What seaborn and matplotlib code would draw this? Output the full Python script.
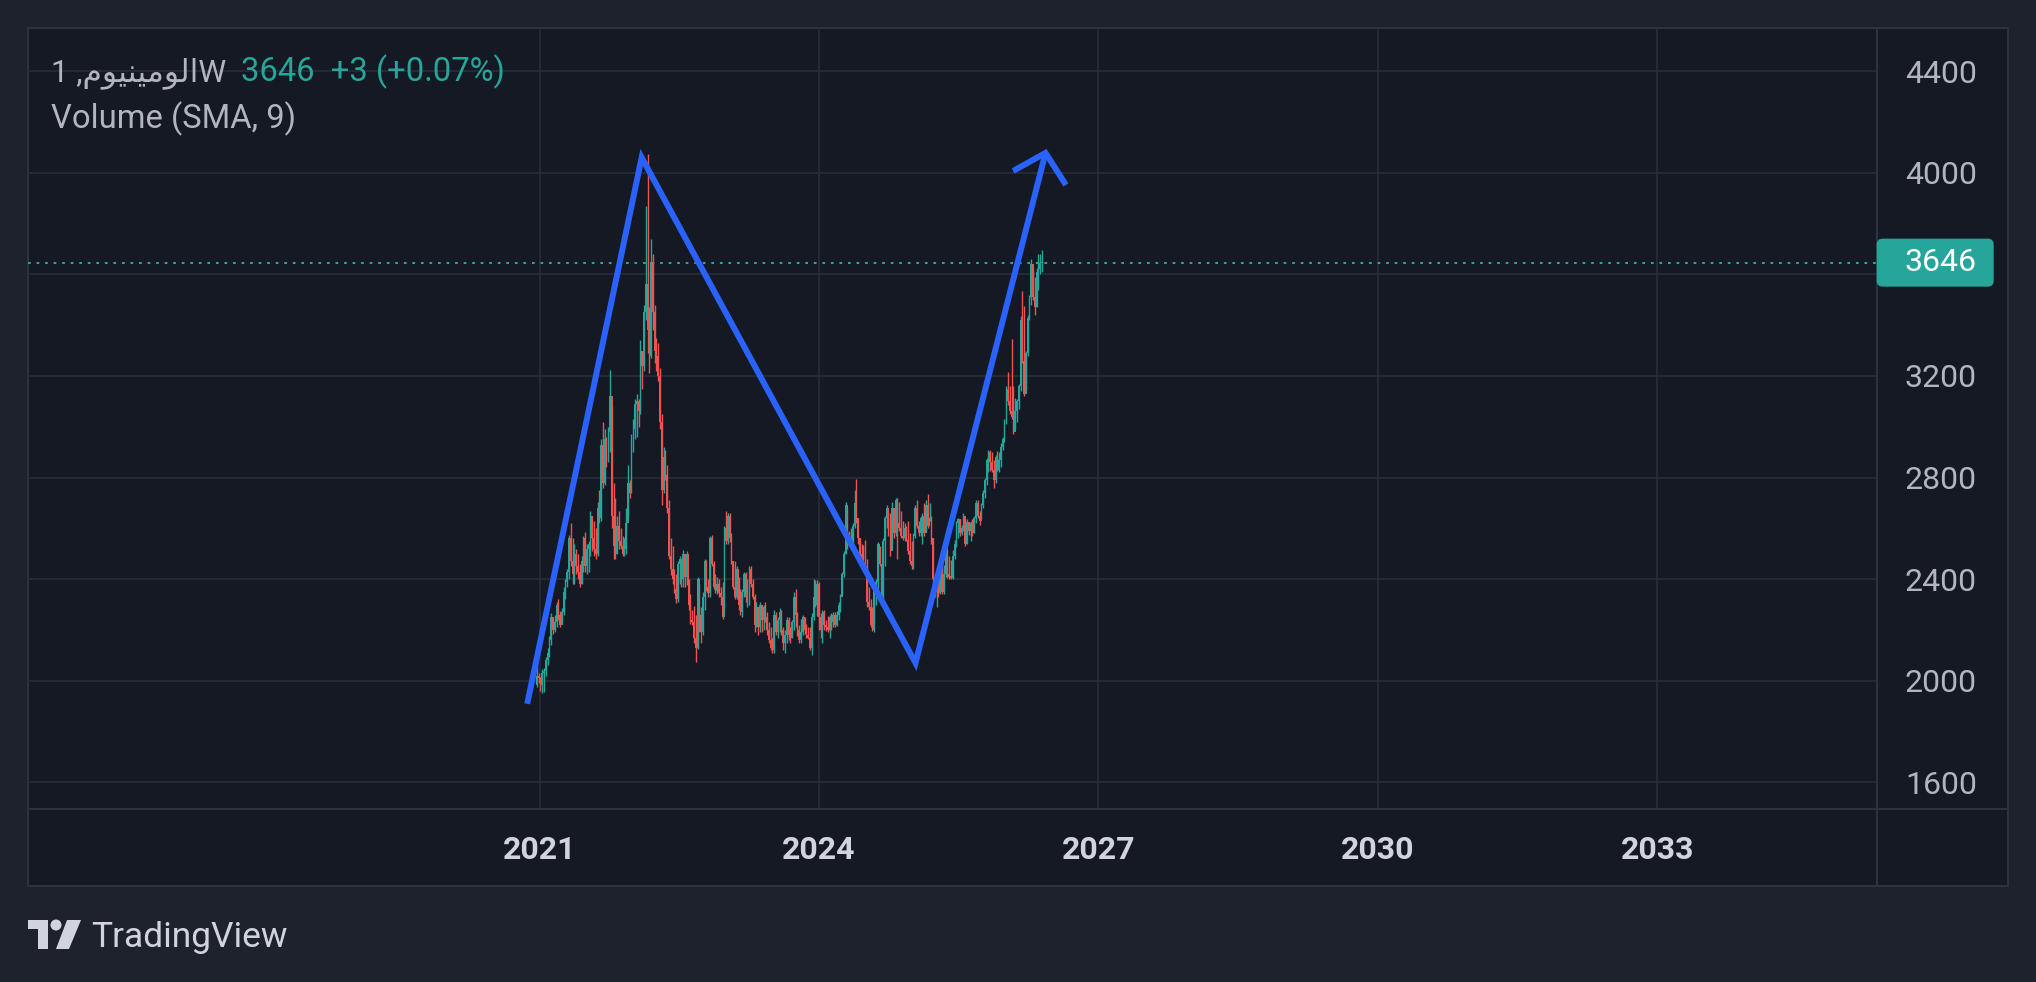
import numpy as np
import pandas as pd
import matplotlib
matplotlib.use("Agg")
import matplotlib.pyplot as plt
import matplotlib.dates as mdates
from matplotlib.patches import Rectangle, FancyBboxPatch, Polygon, Ellipse
from matplotlib.lines import Line2D
from matplotlib.transforms import IdentityTransform
import seaborn as sns

# ---------------- data (weekly candles) ----------------
start_date = "2020-12-21"
first_open = 1985

closes = [
    2020, 2010, 1985, 2030, 2040, 2080, 2110, 2160, 2250, 2200,
    2230, 2300, 2260, 2220, 2270, 2350, 2390, 2430, 2560, 2470,
    2420, 2500, 2450, 2430, 2380, 2470, 2560, 2450, 2520, 2540,
    2650, 2560, 2520, 2500, 2680, 2640, 2930, 2780, 2950, 2870,
    2980, 3120, 2650, 2530, 2500, 2610, 2550, 2530, 2500, 2520,
    2620, 2780, 2740, 2930, 2990, 3090, 3100, 3060, 3300, 3240,
    3450, 3560, 3380, 3280, 3650, 3450, 3300, 3280, 3200, 3020,
    2750, 2880, 2810, 2680, 2490, 2440, 2400, 2360, 2320, 2460,
    2480, 2400, 2500, 2410, 2500, 2300, 2240, 2230, 2170, 2130,
    2400, 2260, 2190, 2330, 2470, 2370, 2345, 2560, 2460, 2370,
    2355, 2380, 2345, 2330, 2250, 2600, 2550, 2650, 2560, 2470,
    2370, 2330, 2440, 2300, 2270, 2350, 2420, 2330, 2390, 2440,
    2380, 2330, 2220, 2290, 2210, 2300, 2240, 2290, 2250, 2200,
    2160, 2130, 2120, 2260, 2190, 2240, 2270, 2200, 2150, 2180,
    2240, 2180, 2170, 2230, 2330, 2260, 2200, 2160, 2190, 2250,
    2200, 2180, 2170, 2130, 2250, 2330, 2300, 2380, 2250, 2200,
    2270, 2220, 2210, 2200, 2250, 2230, 2260, 2220, 2260, 2300,
    2330, 2420, 2500, 2690, 2560, 2540, 2530, 2610, 2700, 2640,
    2560, 2500, 2485, 2470, 2450, 2310, 2290, 2220, 2200, 2360,
    2390, 2540, 2460, 2320, 2550, 2640, 2680, 2580, 2510, 2680,
    2580, 2710, 2620, 2600, 2570, 2560, 2600, 2555, 2510, 2470,
    2450, 2570, 2680, 2610, 2580, 2640, 2650, 2580, 2690, 2610,
    2640, 2560, 2400, 2350, 2410, 2345, 2450, 2350, 2420, 2530,
    2420, 2410, 2405, 2490, 2540, 2620, 2635, 2580, 2600, 2650,
    2540, 2625, 2590, 2620, 2580, 2640, 2700, 2650, 2630, 2690,
    2740, 2790, 2870, 2900, 2860, 2830, 2790, 2880, 2830, 2870,
    2920, 2950, 3020, 3150, 3100, 3060, 3040, 2980, 3060, 3100,
    3160, 3420, 3260, 3130, 3290, 3430, 3510, 3640, 3510, 3470,
    3610, 3620, 3643, 3646,
]
highs = [
    2070, 2030, 2015, 2045, 2050, 2095, 2130, 2175, 2265, 2245,
    2260, 2310, 2320, 2275, 2285, 2370, 2400, 2440, 2575, 2620,
    2560, 2540, 2520, 2500, 2460, 2490, 2570, 2585, 2540, 2550,
    2670, 2630, 2630, 2600, 2705, 2750, 2950, 3020, 2990, 2960,
    3000, 3225, 3080, 2780, 2720, 2650, 2670, 2600, 2570, 2560,
    2680, 2850, 2790, 2970, 3030, 3110, 3130, 3110, 3340, 3290,
    3480, 3870, 4073, 3470, 3740, 3680, 3480, 3350, 3330, 3230,
    3050, 2920, 2910, 2850, 2710, 2560, 2530, 2440, 2420, 2470,
    2490, 2470, 2515, 2460, 2510, 2400, 2340, 2280, 2295, 2260,
    2410, 2380, 2290, 2350, 2480, 2475, 2400, 2570, 2575, 2470,
    2420, 2410, 2400, 2370, 2390, 2610, 2670, 2660, 2660, 2580,
    2460, 2470, 2450, 2410, 2360, 2360, 2430, 2430, 2400, 2450,
    2450, 2400, 2340, 2310, 2280, 2310, 2300, 2300, 2310, 2270,
    2230, 2210, 2170, 2280, 2270, 2250, 2285, 2280, 2210, 2200,
    2250, 2250, 2210, 2240, 2350, 2360, 2270, 2220, 2245, 2260,
    2250, 2225, 2210, 2210, 2265, 2400, 2395, 2395, 2390, 2265,
    2280, 2280, 2240, 2255, 2260, 2265, 2270, 2270, 2275, 2310,
    2340, 2430, 2510, 2705, 2680, 2590, 2600, 2620, 2750, 2795,
    2640, 2560, 2540, 2535, 2555, 2480, 2370, 2320, 2290, 2370,
    2400, 2545, 2530, 2460, 2560, 2650, 2690, 2660, 2660, 2705,
    2660, 2720, 2720, 2705, 2670, 2630, 2620, 2610, 2630, 2580,
    2550, 2580, 2690, 2710, 2630, 2650, 2660, 2700, 2710, 2735,
    2700, 2650, 2560, 2415, 2420, 2420, 2460, 2465, 2455, 2540,
    2520, 2490, 2475, 2515, 2555, 2630, 2640, 2635, 2615, 2660,
    2640, 2635, 2625, 2630, 2635, 2650, 2710, 2710, 2670, 2700,
    2750, 2800, 2875, 2910, 2910, 2900, 2870, 2890, 2905, 2900,
    2935, 2960, 3030, 3160, 3215, 3160, 3345, 3160, 3115, 3110,
    3170, 3436, 3535, 3475, 3300, 3440, 3520, 3660, 3620, 3590,
    3625, 3680, 3680, 3694,
]
lows = [
    1975, 1990, 1960, 1950, 1955, 2020, 2060, 2095, 2140, 2185,
    2190, 2210, 2240, 2210, 2235, 2260, 2320, 2370, 2400, 2450,
    2380, 2380, 2420, 2400, 2370, 2380, 2430, 2430, 2420, 2430,
    2490, 2510, 2490, 2480, 2490, 2620, 2630, 2760, 2770, 2840,
    2860, 2900, 2600, 2480, 2480, 2500, 2520, 2520, 2490, 2490,
    2500, 2650, 2720, 2740, 2900, 2950, 2960, 3000, 3050, 3150,
    3220, 3420, 3290, 3210, 3270, 3380, 3250, 3220, 3180, 2990,
    2690, 2740, 2790, 2660, 2480, 2415, 2380, 2345, 2305, 2310,
    2380, 2370, 2370, 2370, 2375, 2280, 2225, 2220, 2150, 2075,
    2125, 2190, 2150, 2180, 2280, 2355, 2330, 2330, 2450, 2360,
    2345, 2340, 2330, 2300, 2245, 2290, 2540, 2540, 2545, 2460,
    2360, 2320, 2320, 2280, 2260, 2250, 2330, 2310, 2290, 2300,
    2370, 2320, 2190, 2210, 2180, 2190, 2190, 2200, 2230, 2180,
    2150, 2120, 2110, 2110, 2180, 2170, 2190, 2180, 2120, 2110,
    2150, 2160, 2150, 2170, 2200, 2210, 2175, 2150, 2150, 2180,
    2185, 2170, 2165, 2120, 2100, 2240, 2290, 2255, 2200, 2170,
    2150, 2200, 2195, 2190, 2170, 2200, 2210, 2210, 2215, 2240,
    2270, 2340, 2410, 2500, 2520, 2530, 2520, 2530, 2600, 2620,
    2540, 2490, 2460, 2440, 2430, 2290, 2280, 2210, 2195, 2190,
    2300, 2360, 2450, 2300, 2320, 2450, 2600, 2570, 2490, 2540,
    2560, 2570, 2480, 2590, 2560, 2555, 2550, 2550, 2500, 2460,
    2440, 2440, 2560, 2600, 2570, 2570, 2540, 2570, 2590, 2600,
    2630, 2540, 2350, 2330, 2290, 2330, 2340, 2340, 2340, 2410,
    2405, 2400, 2400, 2400, 2480, 2525, 2560, 2570, 2575, 2590,
    2530, 2540, 2575, 2550, 2570, 2580, 2620, 2640, 2615, 2635,
    2680, 2720, 2770, 2820, 2825, 2820, 2760, 2780, 2825, 2820,
    2840, 2910, 2940, 3010, 3085, 3050, 3030, 2970, 2990, 3020,
    3070, 3140, 3250, 3120, 3150, 3280, 3420, 3480, 3500, 3440,
    3470, 3540, 3600, 3610,
]

# hand-drawn zig-zag trend line and arrow head
zigzag_dates = ["2020-11-13", "2022-02-05", "2025-01-14", "2026-06-08"]
zigzag_prices = [1909, 4060, 2070, 4078]
arrow_dates = ["2026-02-01", "2026-06-08", "2026-08-27"]
arrow_prices = [4007, 4078, 3952]

last_price = 3646
y_ticks = [1600, 2000, 2400, 2800, 3200, 3600, 4000, 4400]
hidden_tick = 3600  # covered by the last-price label in the reference
x_tick_years = [2021, 2024, 2027, 2030, 2033]

symbol_ar = "\uFEE1\uFEEE\uFEF4\uFEE8\uFEF4\uFEE3\uFEEE\uFEDF\uFE8D"  # الومينيوم (visual order)
header_left = "1 ," + symbol_ar + "W"
header_right = "3646  +3 (+0.07%)"
header_line2 = "Volume (SMA, 9)"

# ---------------- style ----------------
W, H = 2036, 982
BG = "#1e222d"
PANEL = "#151924"
GRID = "#2a2e39"
SEP = "#2e323e"
TXT = "#b2b5be"
TXT2 = "#d1d4dc"
UP = "#26a69a"
DOWN = "#ef5350"
BLUE = "#2962ff"

sns.set_theme(style="dark", rc={"axes.facecolor": PANEL, "figure.facecolor": BG})
plt.rcParams["font.family"] = ["Roboto", "DejaVu Sans"]


def fx(px):
    return px / W


def fy(py):
    return 1 - py / H


fig = plt.figure(figsize=(W / 100, H / 100), dpi=100, facecolor=BG)

# panel background and separators
fig.add_artist(Rectangle((fx(28), fy(886)), (2008 - 28) / W, (886 - 27.7) / H,
                         transform=fig.transFigure, facecolor=PANEL,
                         edgecolor=SEP, lw=1.5, zorder=-5))

ax = fig.add_axes([fx(28), fy(809), (1876.7 - 28) / W, (809 - 27.7) / H])
ax.set_facecolor("none")
for s in ax.spines.values():
    s.set_visible(False)

fig.add_artist(Line2D([fx(1876.7)] * 2, [fy(27.7), fy(886)], color=SEP,
                      lw=1.5, transform=fig.transFigure, zorder=5))
fig.add_artist(Line2D([fx(28), fx(2008)], [fy(809)] * 2, color=SEP,
                      lw=1.5, transform=fig.transFigure, zorder=5))

# ---------------- candles ----------------
dates = pd.date_range(start_date, periods=len(closes), freq="7D")
xs = mdates.date2num(dates)
c = np.array(closes, dtype=float)
o = np.concatenate([[first_open], c[:-1]])
hi = np.array(highs, dtype=float)
lo = np.array(lows, dtype=float)
cols = np.where(c >= o, UP, DOWN)

ax.vlines(xs, lo, hi, colors=cols, lw=1.0, zorder=3)
ax.bar(xs, np.maximum(np.abs(c - o), 6), bottom=np.minimum(o, c), width=6.0,
       color=cols, linewidth=0, zorder=3)

# current price dotted line
ax.axhline(last_price, color=UP, lw=1.5, ls=(0, (1.3, 2.8)), zorder=2)

# ---------------- zig-zag drawing ----------------
zz = pd.DataFrame({"x": mdates.date2num(pd.to_datetime(zigzag_dates)), "y": zigzag_prices})
ar = pd.DataFrame({"x": mdates.date2num(pd.to_datetime(arrow_dates)), "y": arrow_prices})
sns.lineplot(data=zz, x="x", y="y", sort=False, estimator=None, color=BLUE,
             lw=4.3, ax=ax, solid_joinstyle="miter", solid_capstyle="butt", zorder=6)
sns.lineplot(data=ar, x="x", y="y", sort=False, estimator=None, color=BLUE,
             lw=4.3, ax=ax, solid_joinstyle="miter", solid_capstyle="butt", zorder=6)

# ---------------- axes ----------------
ax.set_xlim(mdates.date2num(pd.Timestamp("2015-07-05")),
            mdates.date2num(pd.Timestamp("2035-05-12")))
ax.set_ylim(1495, 4571)
ax.set_xlabel("")
ax.set_ylabel("")

ax.set_yticks(y_ticks)
ax.set_yticklabels(["" if v == hidden_tick else str(v) for v in y_ticks])
ax.yaxis.tick_right()
ax.tick_params(axis="y", length=0, pad=20.3, labelcolor=TXT, labelsize=23)

xt = mdates.date2num(pd.to_datetime([f"{y}-01-01" for y in x_tick_years]))
ax.set_xticks(xt)
ax.set_xticklabels([str(y) for y in x_tick_years], fontweight="bold")
ax.tick_params(axis="x", length=0, pad=18.5, labelcolor=TXT2, labelsize=23)

ax.grid(True, color=GRID, lw=1.1)
ax.set_axisbelow(True)

# ---------------- price label ----------------
fig.canvas.draw()
y_disp = ax.transData.transform((xs[0], last_price))[1]
fig.add_artist(FancyBboxPatch((1876.7, y_disp - 24), 117, 48,
                              boxstyle="round,pad=0,rounding_size=6",
                              transform=IdentityTransform(), facecolor=UP,
                              edgecolor="none", zorder=7))
fig.text(fx(1905), y_disp / H, str(last_price), color="white", fontsize=23,
         va="center", ha="left", zorder=8)

# ---------------- header ----------------
fig.text(fx(51), fy(81), header_left, color=TXT, fontsize=22.6, va="baseline",
         family=["Roboto", "DejaVu Sans"])
fig.text(fx(241), fy(81), header_right, color=UP, fontsize=23.6, va="baseline")
fig.text(fx(51), fy(128), header_line2, color=TXT, fontsize=23.6, va="baseline")

# ---------------- TradingView logo ----------------
logo_col = TXT2
t_shape = [(28, 920), (48, 920), (48, 949), (38, 949), (38, 929), (28, 929)]
fig.add_artist(Polygon([(fx(a), fy(b)) for a, b in t_shape], closed=True,
                       transform=fig.transFigure, facecolor=logo_col, edgecolor="none"))
slash = [(67, 920), (81, 920), (69, 949), (56, 949)]
fig.add_artist(Polygon([(fx(a), fy(b)) for a, b in slash], closed=True,
                       transform=fig.transFigure, facecolor=logo_col, edgecolor="none"))
fig.add_artist(Ellipse((fx(56), fy(925)), 11 / W, 11 / H,
                       transform=fig.transFigure, facecolor=logo_col, edgecolor="none"))
fig.text(fx(91), fy(947), "TradingView", color=logo_col, fontsize=25.5, va="baseline")

fig.savefig("out.png", dpi=100, facecolor=BG)
